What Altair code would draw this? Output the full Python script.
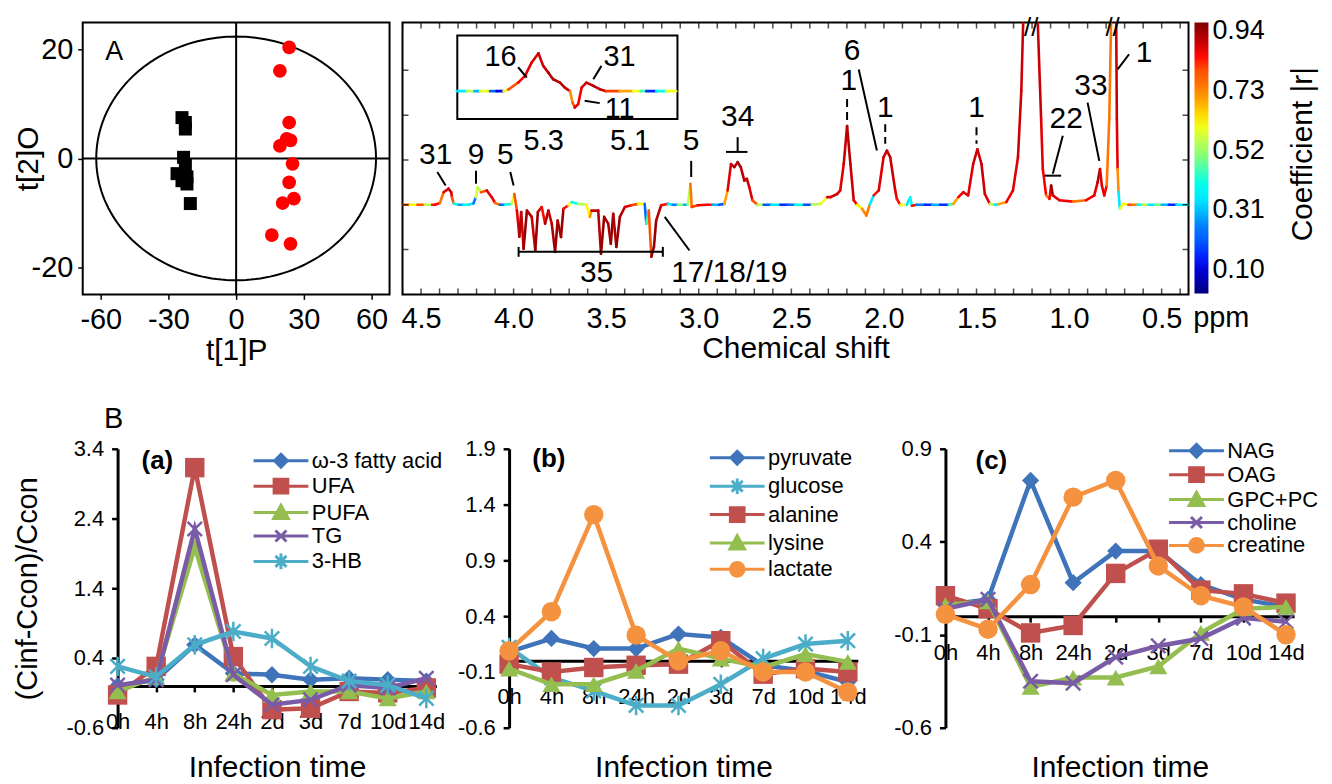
import altair as alt
import numpy as np
import pandas as pd

FONT = "Liberation Sans"

# ---------------- Panel A (left): OPLS-DA scores ----------------
CTRL_T1 = [-24.0, -22.5, -22.5, -23.3, -22.5, -26.2, -21.8, -21.8, -24.0, -20.3]
CTRL_T2 = [7.5, 6.6, 5.4, 0.2, -1.3, -2.8, -3.4, -4.7, -4.1, -8.3]
INF_T1 = [23.5, 19.4, 23.5, 24.1, 22.4, 19.4, 25.0, 23.5, 25.6, 20.6, 15.8, 24.1]
INF_T2 = [20.4, 16.1, 6.6, 3.3, 3.6, 2.3, -1.0, -4.4, -7.4, -8.2, -14.1, -15.7]
ELLIPSE_R1, ELLIPSE_R2 = 62.0, 22.4

# ---------------- Panel A (right): coefficient-coded loadings ----------------
SPEC_PPM = [4.600, 4.560, 4.520, 4.480, 4.440, 4.425, 4.398, 4.378, 4.351, 4.337, 4.333, 4.324, 4.297, 4.270,
            4.244, 4.217, 4.204, 4.194, 4.176, 4.145, 4.118, 4.100, 4.074, 4.047, 4.011, 3.996, 3.982, 3.969,
            3.959, 3.946, 3.928, 3.902, 3.883, 3.869, 3.848, 3.830, 3.812, 3.794, 3.776, 3.762, 3.744, 3.731,
            3.704, 3.687, 3.651, 3.606, 3.588, 3.579, 3.543, 3.528, 3.511, 3.489, 3.475, 3.462, 3.445, 3.426,
            3.399, 3.364, 3.328, 3.292, 3.283, 3.270, 3.256, 3.242, 3.230, 3.203, 3.167, 3.140, 3.113, 3.080,
            3.059, 3.045, 3.038, 3.005, 2.952, 2.925, 2.890, 2.862, 2.844, 2.826, 2.808, 2.790, 2.773, 2.754,
            2.740, 2.727, 2.710, 2.683, 2.650, 2.610, 2.559, 2.520, 2.480, 2.432, 2.390, 2.342, 2.306, 2.288,
            2.253, 2.236, 2.217, 2.199, 2.181, 2.163, 2.145, 2.118, 2.095, 2.077, 2.055, 2.028, 2.002, 1.984,
            1.966, 1.939, 1.930, 1.912, 1.876, 1.858, 1.849, 1.823, 1.780, 1.740, 1.697, 1.650, 1.625, 1.598,
            1.571, 1.545, 1.518, 1.495, 1.473, 1.455, 1.428, 1.402, 1.383, 1.339, 1.303, 1.276, 1.258, 1.242,
            1.177, 1.151, 1.142, 1.124, 1.106, 1.097, 1.088, 1.052, 0.980, 0.909, 0.864, 0.846, 0.833, 0.823,
            0.810, 0.797, 0.783, 0.769, 0.747, 0.742, 0.738, 0.733, 0.726, 0.708, 0.680, 0.658, 0.630, 0.604,
            0.570, 0.532, 0.500, 0.461, 0.420, 0.355]
SPEC_INT = [0.00, 0.00, 0.00, 0.00, 0.00, 0.00, 0.04, 0.28, 0.36, 0.28, 0.17, 0.03, 0.00, 0.00,
            0.00, 0.03, 0.17, 0.39, 0.28, 0.32, 0.17, 0.04, 0.00, 0.00, 0.02, 0.24, -0.13, -0.71,
            -0.16, -0.98, -0.13, -0.27, -1.02, -0.16, -0.05, -0.42, -0.13, -0.42, -1.05, -0.35, -0.72, -0.09,
            -0.01, 0.06, 0.02, 0.00, -0.27, -0.13, -0.13, -1.09, -0.27, -0.42, -0.87, -0.20, -0.94, -0.27,
            -0.05, -0.01, 0.02, 0.02, -0.42, -0.13, -1.16, -0.94, -0.35, -0.01, 0.02, 0.00, 0.00, 0.00,
            0.00, 0.47, -0.05, -0.01, 0.00, 0.00, 0.00, 0.02, 0.32, 0.91, 0.84, 0.95, 0.84, 0.54,
            0.58, 0.39, 0.10, 0.00, 0.00, 0.00, 0.00, 0.00, 0.00, 0.00, 0.00, 0.02, 0.17, 0.17,
            0.24, 0.32, 0.91, 1.76, 0.91, 0.10, 0.00, -0.09, -0.24, 0.00, 0.21, 0.32, 1.06, 1.21,
            1.06, 0.32, 0.13, 0.00, 0.00, 0.17, -0.02, 0.00, 0.00, 0.00, 0.00, 0.00, 0.02, 0.17,
            0.28, 0.21, 0.91, 1.24, 0.91, 0.24, 0.02, 0.00, 0.01, 0.06, 0.32, 1.06, 2.54, 5.00,
            5.00, 1.91, 0.80, 0.21, 0.13, 0.43, 0.21, 0.10, 0.07, 0.10, 0.21, 0.50, 0.80, 0.43,
            0.21, 0.43, 1.91, 5.00, 5.00, 1.91, 0.80, 0.28, -0.09, 0.02, 0.00, 0.00, 0.00, 0.00,
            0.00, 0.00, 0.00, 0.00, 0.00, 0.00]
SPEC_R = [0.78, 0.62, 0.80, 0.55, 0.85, 0.85, 0.75, 0.88, 0.90, 0.88, 0.80, 0.40, 0.28, 0.40,
          0.35, 0.25, 0.58, 0.55, 0.80, 0.88, 0.86, 0.75, 0.22, 0.40, 0.58, 0.80, 0.88, 0.93,
          0.90, 0.95, 0.92, 0.90, 0.95, 0.90, 0.85, 0.93, 0.90, 0.93, 0.95, 0.93, 0.94, 0.85,
          0.60, 0.40, 0.55, 0.62, 0.72, 0.90, 0.92, 0.95, 0.93, 0.93, 0.95, 0.92, 0.95, 0.92,
          0.88, 0.82, 0.62, 0.22, 0.45, 0.80, 0.95, 0.95, 0.92, 0.85, 0.35, 0.25, 0.50, 0.30,
          0.55, 0.75, 0.82, 0.86, 0.85, 0.30, 0.20, 0.70, 0.88, 0.90, 0.93, 0.93, 0.92, 0.92,
          0.90, 0.88, 0.80, 0.55, 0.20, 0.35, 0.15, 0.22, 0.40, 0.18, 0.55, 0.60, 0.88, 0.90,
          0.88, 0.88, 0.90, 0.92, 0.90, 0.86, 0.62, 0.72, 0.75, 0.35, 0.85, 0.88, 0.90, 0.90,
          0.90, 0.88, 0.85, 0.60, 0.35, 0.38, 0.85, 0.25, 0.15, 0.30, 0.15, 0.45, 0.70, 0.86,
          0.88, 0.88, 0.90, 0.90, 0.90, 0.88, 0.55, 0.35, 0.70, 0.86, 0.88, 0.90, 0.90, 0.95,
          0.90, 0.88, 0.86, 0.75, 0.86, 0.95, 0.88, 0.86, 0.75, 0.86, 0.88, 0.93, 0.88, 0.88,
          0.86, 0.75, 0.75, 0.88, 0.90, 0.88, 0.72, 0.35, 0.60, 0.62, 0.80, 0.75, 0.40, 0.55,
          0.35, 0.50, 0.30, 0.15, 0.35, 0.15]
SPEC_TEXT = ["31", "9", "5", "5", "34", "35", "17/18/19", "1", "6", "1", "1", "22", "33", "1"]
SPEC_TEXT_PPM = [4.421, 4.203, 4.045, 3.041, 2.790, 3.552, 2.835, 2.190, 2.172, 1.993, 1.500, 1.016, 0.882, 0.595]
SPEC_TEXT_VAL = [1.10, 1.10, 1.10, 1.43, 1.95, -1.53, -1.53, 2.76, 3.43, 2.17, 2.17, 1.91, 2.65, 3.39]
LEAD_PPM = [4.412, 4.203, 4.018, 3.041, 2.790, 2.853, 3.973, 3.973, 3.194, 3.184, 2.136, 1.034, 1.133, 0.900, 0.676]
LEAD_VAL = [0.73, 0.76, 0.73, 0.98, 1.51, 1.18, -1.05, -0.94, -0.94, -0.27, 3.02, 1.54, 0.65, 2.28, 3.36]
LEAD_PPM2 = [4.367, 4.203, 4.000, 3.041, 2.790, 2.737, 3.194, 3.973, 3.194, 3.050, 2.038, 1.088, 1.043, 0.837, 0.738]
LEAD_VAL2 = [0.43, 0.47, 0.43, 0.62, 1.18, 1.18, -1.05, -1.16, -1.16, -1.02, 1.21, 0.69, 0.65, 0.98, 3.02]
DASH_PPM = [2.199, 1.993, 1.500]
DASH_TOP = [2.36, 1.80, 1.73]
DASH_BOTTOM = [1.84, 1.36, 1.36]
BREAK_PPM = [1.204, 0.765]

INSET_PPM = [5.501, 5.478, 5.460, 5.447, 5.424, 5.409, 5.393, 5.382, 5.359, 5.343, 5.328, 5.312, 5.301,
             5.289, 5.278, 5.262, 5.251, 5.239, 5.233, 5.228, 5.220, 5.212, 5.201, 5.185, 5.170, 5.155,
             5.124, 5.093, 5.075, 5.062, 5.039, 5.016, 4.993]
INSET_INT = [0.00, 0.00, 0.00, 0.00, 0.00, 0.00, 0.00, 0.08, 0.43, 0.77, 1.43, 1.90, 1.27,
             0.93, 0.60, 0.43, 0.18, 0.00, -0.57, -0.82, -0.65, 0.18, 0.43, 0.27, 0.10, 0.00,
             0.00, 0.00, 0.00, 0.00, 0.00, 0.00, 0.00]
INSET_R = [0.35, 0.55, 0.30, 0.60, 0.22, 0.12, 0.60, 0.80, 0.86, 0.88, 0.88, 0.90, 0.90,
           0.92, 0.92, 0.92, 0.90, 0.72, 0.80, 0.88, 0.86, 0.88, 0.90, 0.92, 0.90, 0.82,
           0.70, 0.60, 0.45, 0.15, 0.40, 0.60, 0.40]
INSET_TEXT = ["16", "31", "11", "5.3", "5.1"]
INSET_TEXT_PPM = [5.400, 5.124, 5.124, 5.300, 5.100]
INSET_TEXT_VAL = [1.69, 1.69, -0.90, -2.50, -2.50]
INSET_LEAD = [(5.359, 1.20, 5.339, 0.68), (5.166, 1.27, 5.185, 0.60), (5.205, -0.48, 5.170, -0.60)]
INSET_X_DOMAIN = [5.50, 4.99]
INSET_Y_DOMAIN = [-1.4, 2.8]

R_TICKS = [0.10, 0.31, 0.52, 0.73, 0.94]
JET = ["#00007F", "#0000FF", "#007FFF", "#00FFFF", "#7FFF7F", "#FFFF00", "#FF7F00", "#FF0000", "#7F0000"]
R_RANGE = [0.016, 0.972]
COLORBAR_TITLE = "Coefficient |r|"

# ---------------- Panel B: time courses ----------------
TIMES = ["0h", "4h", "8h", "24h", "2d", "3d", "7d", "10d", "14d"]

A_NAMES = ["ω-3 fatty acid", "UFA", "PUFA", "TG", "3-HB"]
A_OMEGA3 = [0.00, 0.09, 0.59, 0.18, 0.16, 0.09, 0.11, 0.09, 0.07]
A_UFA = [-0.13, 0.28, 3.13, 0.42, -0.34, -0.32, -0.08, -0.10, -0.03]
A_PUFA = [-0.08, 0.13, 1.99, 0.18, -0.13, -0.08, -0.08, -0.18, -0.08]
A_TG = [0.01, 0.09, 2.25, 0.16, -0.27, -0.20, 0.01, -0.03, 0.11]
A_3HB = [0.28, 0.13, 0.59, 0.78, 0.68, 0.28, 0.07, 0.01, -0.18]

B_NAMES = ["pyruvate", "glucose", "alanine", "lysine", "lactate"]
B_PYRUVATE = [0.08, 0.20, 0.11, 0.11, 0.24, 0.21, -0.04, -0.09, -0.19]
B_GLUCOSE = [0.12, -0.15, -0.27, -0.40, -0.40, -0.21, 0.02, 0.15, 0.18]
B_ALANINE = [-0.03, -0.10, -0.06, -0.04, -0.03, 0.18, -0.12, -0.07, -0.10]
B_LYSINE = [-0.07, -0.21, -0.21, -0.09, 0.11, 0.02, -0.06, 0.06, -0.01]
B_LACTATE = [0.09, 0.44, 1.31, 0.23, 0.00, 0.09, -0.10, -0.10, -0.28]

C_NAMES = ["NAG", "OAG", "GPC+PC", "choline", "creatine"]
C_NAG = [0.06, 0.09, 0.73, 0.18, 0.35, 0.35, 0.17, 0.09, 0.05]
C_OAG = [0.11, 0.04, -0.09, -0.05, 0.23, 0.36, 0.14, 0.12, 0.07]
C_GPC = [0.06, 0.08, -0.38, -0.33, -0.33, -0.27, -0.09, 0.04, 0.05]
C_CHOLINE = [0.04, 0.09, -0.35, -0.36, -0.22, -0.16, -0.12, -0.01, -0.03]
C_CREATINE = [0.01, -0.07, 0.17, 0.64, 0.73, 0.27, 0.11, 0.05, -0.10]

BLUE, RED, GREEN, PURPLE, CYAN, ORANGE = "#3F74BA", "#C0504D", "#94BE4F", "#7A5BA6", "#4BADC8", "#F4923F"

X_PATH = "M-1,-1L1,1M-1,1L1,-1"
STAR_PATH = "M-1,-1L1,1M-1,1L1,-1M0,-1.35L0,1.35"
MARK = {
    "diamond": ("diamond", True, 300, "M0,-0.7L0.7,0L0,0.7L-0.7,0Z"),
    "square": ("square", True, 380, "M-0.75,-0.75L0.75,-0.75L0.75,0.75L-0.75,0.75Z"),
    "triangle": ("triangle-up", True, 330, "M0,-0.8L0.8,0.65L-0.8,0.65Z"),
    "x": (X_PATH, False, 210, "M-0.6,-0.6L0.6,0.6M-0.6,0.6L0.6,-0.6"),
    "star": (STAR_PATH, False, 210, "M-0.6,-0.6L0.6,0.6M-0.6,0.6L0.6,-0.6M0,-0.85L0,0.85"),
    "circle": ("circle", True, 380, "M-0.75,0A0.75,0.75,0,1,0,0.75,0A0.75,0.75,0,1,0,-0.75,0Z"),
}

AX = dict(labelFont=FONT, titleFont=FONT, labelColor="black", titleColor="black",
          titleFontWeight="normal", grid=False)


def neg_fmt(fmt):
    return f"(datum.value < 0 ? '-' : '') + format(abs(datum.value), '{fmt}')"


# ================= score plot =================
SX = alt.X("t1:Q", scale=alt.Scale(domain=[-68, 68], nice=False, zero=False),
           axis=alt.Axis(values=[-60, -30, 0, 30, 60], labelExpr=neg_fmt("d"), title="t[1]P", domain=False,
                         tickSize=5, tickWidth=1.5, tickColor="black", labelFontSize=29, titleFontSize=30,
                         labelPadding=6, titleY=41, titleBaseline="top", labelFlush=False, **AX))
SY = alt.Y("t2:Q", scale=alt.Scale(domain=[-25, 25], nice=False, zero=False),
           axis=alt.Axis(values=[-20, 0, 20], labelExpr=neg_fmt("d"), title="t[2]O", domain=False,
                         tickSize=5, tickWidth=1.5, tickColor="black", labelFontSize=29, titleFontSize=30,
                         labelPadding=5, titleX=-54, titleBaseline="middle", titleAngle=270, **AX))

ellipse = (alt.Chart(alt.sequence(0, 362, 2, as_="deg"))
           .transform_calculate(t1=f"{ELLIPSE_R1}*cos(datum.deg*PI/180)",
                                t2=f"{ELLIPSE_R2}*sin(datum.deg*PI/180)")
           .mark_line(color="black", strokeWidth=2)
           .encode(x=SX, y=SY, order="deg:Q"))
vline = alt.Chart(pd.DataFrame({"t1": [0.0]})).mark_rule(color="black", strokeWidth=2).encode(x=SX)
hline = alt.Chart(pd.DataFrame({"t2": [0.0]})).mark_rule(color="black", strokeWidth=2).encode(y=SY)
ctrl = (alt.Chart(pd.DataFrame({"t1": CTRL_T1, "t2": CTRL_T2}))
        .mark_point(shape="square", filled=True, size=170, color="black", opacity=1).encode(x=SX, y=SY))
inf = (alt.Chart(pd.DataFrame({"t1": INF_T1, "t2": INF_T2}))
       .mark_point(shape="circle", filled=True, size=190, color="#FF0000", opacity=1).encode(x=SX, y=SY))
tag_A = (alt.Chart(pd.DataFrame({"t1": [-54], "t2": [19.5], "txt": ["A"]}))
         .mark_text(fontSize=27, font=FONT, color="black").encode(x=SX, y=SY, text="txt:N"))
score = alt.layer(ellipse, vline, hline, ctrl, inf, tag_A).properties(
    width=308, height=273, view=alt.ViewBackground(stroke="black", strokeWidth=2))

# ================= spectrum =================
SW, SH = 789, 273
XS = alt.X("ppm:Q", scale=alt.Scale(domain=[0.355, 4.6], reverse=True, nice=False, zero=False),
           axis=alt.Axis(values=[4.5, 4.0, 3.5, 3.0, 2.5, 2.0, 1.5, 1.0, 0.5], format=".1f",
                         title="Chemical shift", ticks=False, domain=False, labelFontSize=29,
                         titleFontSize=30, labelPadding=10, titleY=39, titleBaseline="top",
                         labelFlush=False, **AX))
YS = alt.Y("val:Q", scale=alt.Scale(domain=[-2.0, 4.07], nice=False, zero=False), axis=None)

R_STOPS = list(np.linspace(R_RANGE[0], R_RANGE[1], len(JET)))
COLOR_ENC = alt.Color("r:Q", scale=alt.Scale(domain=R_STOPS, range=JET, nice=False, zero=False, clamp=True),
                      legend=alt.Legend(title=None, orient="right", offset=6, direction="vertical",
                                        gradientLength=272, gradientThickness=14, gradientStrokeWidth=0,
                                        values=R_TICKS, format=".2f", labelFontSize=27, labelFont=FONT,
                                        labelColor="black", labelOffset=4, labelOverlap=False))


def seg_chart(df, x_enc, y_enc):
    return (alt.Chart(df)
            .transform_window(ppm2="lead(ppm)", val2="lead(val)", sort=[alt.SortField("i")], frame=[None, None])
            .transform_filter("isValid(datum.ppm2)")
            .mark_rule(strokeWidth=2.6, strokeCap="round", clip=True)
            .encode(x=x_enc, x2="ppm2:Q", y=y_enc, y2="val2:Q", color=COLOR_ENC))


spec_df = pd.DataFrame({"ppm": SPEC_PPM, "val": SPEC_INT, "r": SPEC_R, "i": range(len(SPEC_PPM))})
spec_line = seg_chart(spec_df, XS, YS)
spec_text = (alt.Chart(pd.DataFrame({"ppm": SPEC_TEXT_PPM, "val": SPEC_TEXT_VAL, "label": SPEC_TEXT}))
             .mark_text(fontSize=30, font=FONT, color="black").encode(x=XS, y=YS, text="label:N"))
spec_lead = (alt.Chart(pd.DataFrame({"ppm": LEAD_PPM, "val": LEAD_VAL, "ppm2": LEAD_PPM2, "val2": LEAD_VAL2}))
             .mark_rule(color="black", strokeWidth=2).encode(x=XS, y=YS, x2="ppm2:Q", y2="val2:Q"))
spec_dash = (alt.Chart(pd.DataFrame({"ppm": DASH_PPM, "val": DASH_TOP, "val2": DASH_BOTTOM}))
             .mark_rule(color="black", strokeWidth=2, strokeDash=[8, 5]).encode(x=XS, y=YS, y2="val2:Q"))
MINOR = [round(4.6 - 0.1 * k, 1) for k in range(43)]
tick_df = pd.DataFrame({"ppm": MINOR})
ticks_top = alt.Chart(tick_df).mark_tick(color="black", size=12, thickness=1.5, clip=True).encode(
    x=XS, y=alt.value(0))
ticks_bot = alt.Chart(tick_df).mark_tick(color="black", size=12, thickness=1.5, clip=True).encode(
    x=XS, y=alt.value(SH))
ytick_df = pd.DataFrame({"val": [-1, 0, 1, 2, 3]})
ticks_l = alt.Chart(ytick_df).mark_tick(color="black", size=12, thickness=1.5, clip=True).encode(
    y=YS, x=alt.value(0))
ticks_r = alt.Chart(ytick_df).mark_tick(color="black", size=12, thickness=1.5, clip=True).encode(
    y=YS, x=alt.value(SW))
breaks = (alt.Chart(pd.DataFrame({"ppm": BREAK_PPM, "val": [3.955, 3.955], "label": ["//", "//"]}))
          .mark_text(fontSize=26, font=FONT, color="black").encode(x=XS, y=YS, text="label:N"))
ppm_lbl = (alt.Chart(pd.DataFrame({"ppm": [0.33], "val": [-2.0], "label": ["ppm"]}))
           .mark_text(fontSize=29, font=FONT, color="black", baseline="top", align="left", dy=10)
           .encode(x=XS, y=YS, text="label:N"))
cbar_title = (alt.Chart(pd.DataFrame({"ppm": [-0.263], "val": [1.13], "label": [COLORBAR_TITLE]}))
              .mark_text(fontSize=30, font=FONT, color="black", angle=270).encode(x=XS, y=YS, text="label:N"))
main_group = alt.layer(spec_line, ticks_top, ticks_bot, ticks_l, ticks_r, spec_lead, spec_dash,
                       spec_text, breaks, ppm_lbl, cbar_title)

XI = alt.X("ppm:Q", scale=alt.Scale(domain=INSET_X_DOMAIN, range=[55, 276], nice=False, zero=False), axis=None)
YI = alt.Y("val:Q", scale=alt.Scale(domain=INSET_Y_DOMAIN, range=[97, 13], nice=False, zero=False), axis=None)
inset_frame = (alt.Chart(pd.DataFrame({"ppm": [INSET_X_DOMAIN[0]], "ppm2": [INSET_X_DOMAIN[1]],
                                       "val": [INSET_Y_DOMAIN[0]], "val2": [INSET_Y_DOMAIN[1]]}))
               .mark_rect(fill="white", stroke="black", strokeWidth=2)
               .encode(x=XI, x2="ppm2:Q", y=YI, y2="val2:Q"))
inset_df = pd.DataFrame({"ppm": INSET_PPM, "val": INSET_INT, "r": INSET_R, "i": range(len(INSET_PPM))})
inset_line = seg_chart(inset_df, XI, YI)
inset_text = (alt.Chart(pd.DataFrame({"ppm": INSET_TEXT_PPM, "val": INSET_TEXT_VAL, "label": INSET_TEXT}))
              .mark_text(fontSize=29, font=FONT, color="black").encode(x=XI, y=YI, text="label:N"))
inset_lead = (alt.Chart(pd.DataFrame(INSET_LEAD, columns=["ppm", "val", "ppm2", "val2"]))
              .mark_rule(color="black", strokeWidth=2).encode(x=XI, y=YI, x2="ppm2:Q", y2="val2:Q"))
inset_group = alt.layer(inset_frame, inset_line, inset_lead, inset_text)

spectrum = (alt.layer(main_group, inset_group)
            .resolve_scale(x="independent", y="independent")
            .properties(width=SW, height=SH, view=alt.ViewBackground(stroke="black", strokeWidth=2)))

# ================= time-course panels =================
TIME_EXPR = "[" + ",".join(f"'{t}'" for t in TIMES) + "][datum.value]"
PH = 280


def panel(names, series, colors, marks, ydom, yvals, width, xmax, ytitle, tag, tag_xy,
          leg_xy, row_pad, extra_tag=None):
    rows = []
    for n, vals in zip(names, series):
        for k, v in enumerate(vals):
            rows.append({"series": n, "idx": k, "value": v})
    df = pd.DataFrame(rows)
    zero_px = PH * ydom[1] / (ydom[1] - ydom[0])
    XB = alt.X("idx:Q", scale=alt.Scale(domain=[0, xmax], nice=False, zero=False),
               axis=alt.Axis(values=list(range(len(TIMES))), labelExpr=TIME_EXPR, offset=zero_px - PH,
                             title="Infection time", titleY=305 - zero_px, titleBaseline="top",
                             titleFontSize=30, domainColor="black", domainWidth=3, tickColor="black",
                             tickWidth=2.5, tickSize=6, labelFontSize=22, labelPadding=20, labelFlush=False,
                             labelOverlap=False, **AX))
    ykw = dict(values=yvals, labelExpr=neg_fmt(".1f"), domainColor="black", domainWidth=3, tickColor="black",
               tickWidth=2.5, tickSize=6, labelFontSize=22, labelPadding=8, labelOverlap=False, **AX)
    if ytitle:
        ykw.update(title=ytitle, titleFontSize=29, titleX=-90, titleBaseline="middle", titleAngle=270)
    else:
        ykw.update(title=None)
    YB = alt.Y("value:Q", scale=alt.Scale(domain=ydom, nice=False, zero=False), axis=alt.Axis(**ykw))

    layers = []
    for n, c, m in zip(names, colors, marks):
        shape, filled, size, _ = MARK[m]
        sub = alt.Chart(df).transform_filter(alt.datum.series == n)
        layers.append(sub.mark_line(color=c, strokeWidth=4.5).encode(x=XB, y=YB))
        layers.append(sub.mark_point(shape=shape, filled=filled, size=size, color=c, strokeWidth=2.5,
                                     opacity=1).encode(x=XB, y=YB))
    leg_paths = ["M-3,0L3,0" + MARK[m][3] for m in marks]
    LEG = alt.Legend(title=None, orient="none", legendX=leg_xy[0], legendY=leg_xy[1], labelFontSize=22,
                     labelFont=FONT, labelColor="black", labelOffset=20, rowPadding=row_pad,
                     symbolSize=336, symbolStrokeWidth=3, labelLimit=400)
    legend_layer = (alt.Chart(df).transform_filter("false")
                    .mark_point(filled=True, size=336, strokeWidth=3, opacity=1)
                    .encode(x=XB, y=YB,
                            fill=alt.Fill("series:N", scale=alt.Scale(domain=names, range=colors), legend=LEG),
                            stroke=alt.Stroke("series:N", scale=alt.Scale(domain=names, range=colors), legend=LEG),
                            shape=alt.Shape("series:N", scale=alt.Scale(domain=names, range=leg_paths), legend=LEG)))
    layers.append(legend_layer)
    tag_df = pd.DataFrame({"idx": [tag_xy[0]], "value": [tag_xy[1]], "txt": [tag]})
    layers.append(alt.Chart(tag_df).mark_text(fontSize=26, fontWeight="bold", font=FONT, color="black")
                  .encode(x=XB, y=YB, text="txt:N"))
    if extra_tag:
        et = pd.DataFrame({"idx": [extra_tag[1]], "value": [extra_tag[2]], "txt": [extra_tag[0]]})
        layers.append(alt.Chart(et).mark_text(fontSize=29, font=FONT, color="black")
                      .encode(x=XB, y=YB, text="txt:N"))
    return alt.layer(*layers).properties(width=width, height=PH)


pa = panel(A_NAMES, [A_OMEGA3, A_UFA, A_PUFA, A_TG, A_3HB], [BLUE, RED, GREEN, PURPLE, CYAN],
           ["diamond", "square", "triangle", "x", "star"], [-0.6, 3.4], [-0.6, 0.4, 1.4, 2.4, 3.4],
           320, 8.26, "(Cinf-Ccon)/Ccon", "(a)", (1.03, 3.23), (153, 1), -0.5, extra_tag=("B", -0.1, 3.83))
pb = panel(B_NAMES, [B_PYRUVATE, B_GLUCOSE, B_ALANINE, B_LYSINE, B_LACTATE], [BLUE, CYAN, RED, GREEN, ORANGE],
           ["diamond", "star", "square", "triangle", "circle"], [-0.6, 1.9], [-0.6, -0.1, 0.4, 0.9, 1.4, 1.9],
           350, 8.235, None, "(b)", (0.94, 1.81), (218, -2), 1.5)
pc = panel(C_NAMES, [C_NAG, C_OAG, C_GPC, C_CHOLINE, C_CREATINE], [BLUE, RED, GREEN, PURPLE, ORANGE],
           ["diamond", "square", "triangle", "x", "circle"], [-0.6, 0.9], [-0.6, -0.1, 0.4, 0.9],
           350, 8.19, None, "(c)", (1.08, 0.836), (241, -9), -2)

spacer = (alt.Chart(pd.DataFrame({"idx": [0]})).mark_point(opacity=0)
          .encode(x=alt.X("idx:Q", axis=None), y=alt.Y("idx:Q", axis=None)).properties(width=35, height=10))

RES = dict(x="independent", y="independent", color="independent", fill="independent",
           stroke="independent", shape="independent")

top = alt.hconcat(score, spectrum, spacing=13, bounds="flush").resolve_scale(**RES)
bc = alt.hconcat(pb, pc, spacing=88, bounds="flush").resolve_scale(**RES)
abc = alt.hconcat(pa, bc, spacing=73, bounds="flush").resolve_scale(**RES)
bottom = alt.hconcat(spacer, abc, spacing=0, bounds="flush").resolve_scale(**RES)

# the flush layout counts a nested row as zero-height, so the gap includes the top row's height
ROW_GAP = SH + 155
chart = (alt.vconcat(top, bottom, spacing=ROW_GAP, bounds="flush").resolve_scale(**RES)
         .properties(padding={"left": 5, "top": 4, "right": 5, "bottom": 5})
         .configure(font=FONT)
         .configure_view(stroke=None))

chart.save("out.html", embed_options={"renderer": "svg", "actions": False})
